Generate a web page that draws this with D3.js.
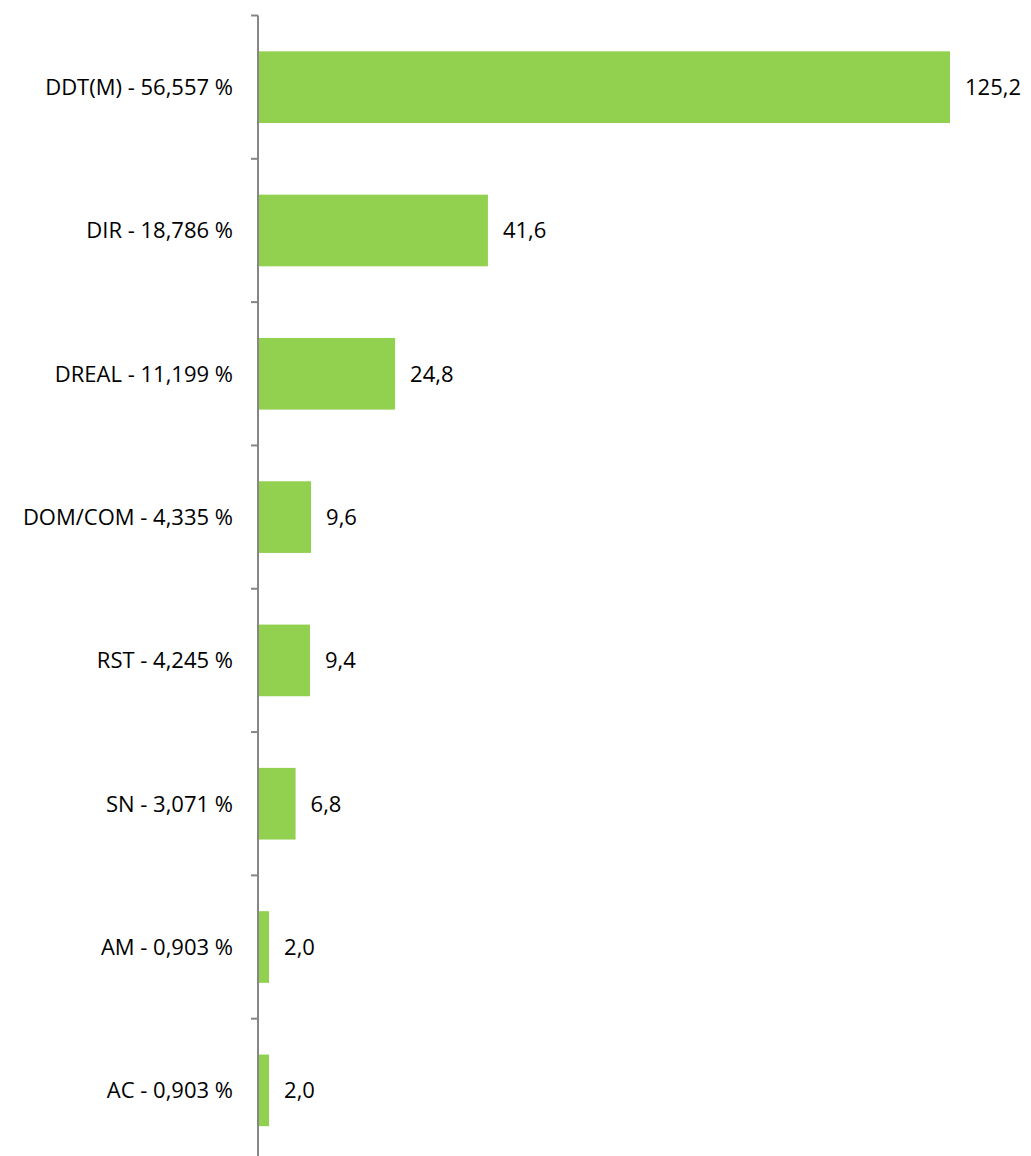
<!DOCTYPE html>
<html>
<head>
<meta charset="utf-8">
<script src="https://cdn.jsdelivr.net/npm/d3@7"></script>
<style>
  html, body { margin: 0; padding: 0; background: #fff; }
  svg { display: block; }
  text { font-family: "Open Sans", Lato, sans-serif; fill: #000; }
</style>
</head>
<body>
<svg id="chart" width="1031" height="1156"></svg>
<script>
const categories = ["DDT(M) - 56,557 %", "DIR - 18,786 %", "DREAL - 11,199 %", "DOM/COM - 4,335 %", "RST - 4,245 %", "SN - 3,071 %", "AM - 0,903 %", "AC - 0,903 %"];
const values = [125.2, 41.6, 24.8, 9.6, 9.4, 6.8, 2.0, 2.0];
const valueLabels = ["125,2", "41,6", "24,8", "9,6", "9,4", "6,8", "2,0", "2,0"];

(function () {
const svg = d3.select("#chart");
const axisX = 258;
const yTop = 15.5, yBottom = 1162;

const y = d3.scaleBand().domain(categories).range([yTop, yBottom]).paddingInner(0.5).paddingOuter(0.25);
const x = d3.scaleLinear().domain([0, 125.2]).range([axisX, 950]);

const g = svg.append("g");

g.selectAll("rect.bar").data(values).enter().append("rect")
  .attr("class", "bar")
  .attr("x", x(0))
  .attr("y", (d, i) => y(categories[i]))
  .attr("width", d => x(d) - x(0))
  .attr("height", y.bandwidth())
  .attr("fill", "#92D050");

const step = (yBottom - yTop) / categories.length;
const tickYs = d3.range(categories.length + 1).map(i => yTop + i * step);
g.append("line").attr("x1", axisX).attr("x2", axisX).attr("y1", yTop).attr("y2", yBottom)
  .attr("stroke", "#868686").attr("stroke-width", 2);
g.selectAll("line.tick").data(tickYs).enter().append("line")
  .attr("class", "tick")
  .attr("x1", axisX - 7).attr("x2", axisX).attr("y1", d => d).attr("y2", d => d)
  .attr("stroke", "#868686").attr("stroke-width", 2);

g.selectAll("text.cat").data(categories).enter().append("text")
  .attr("class", "cat")
  .attr("x", 233)
  .attr("y", d => y(d) + y.bandwidth() / 2)
  .attr("dy", "0.36em")
  .attr("text-anchor", "end")
  .attr("font-size", 22)
  .text(d => d);

g.selectAll("text.val").data(values).enter().append("text")
  .attr("class", "val")
  .attr("x", d => x(d) + 15)
  .attr("y", (d, i) => y(categories[i]) + y.bandwidth() / 2)
  .attr("dy", "0.36em")
  .attr("font-size", 22)
  .text((d, i) => valueLabels[i]);
})();
</script>
</body>
</html>
